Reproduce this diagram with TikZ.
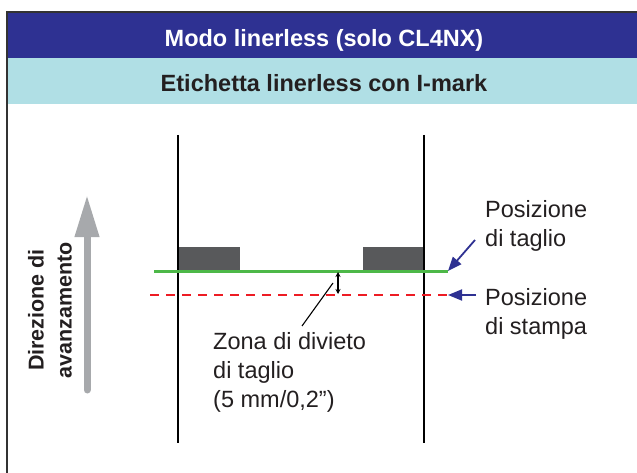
\documentclass[tikz,border=0pt]{standalone}
\usepackage{fontspec}
\setmainfont{Liberation Sans}
\usetikzlibrary{arrows.meta}
\definecolor{bandblue}{HTML}{2E3192}
\definecolor{bandcyan}{HTML}{B0DFE5}
\definecolor{markgray}{HTML}{58595B}
\definecolor{cutgreen}{HTML}{4DB848}
\definecolor{prtred}{HTML}{ED1C24}
\definecolor{inkgray}{HTML}{231F20}
\definecolor{dirgray}{HTML}{A7A9AC}
\begin{document}
\begin{tikzpicture}
  [x=1pt,y=-1pt,
   every node/.style={inner sep=0pt,text=inkgray,font=\fontsize{23.5}{29}\selectfont},
   label/.style={align=left,anchor=base west},
   pointer/.style={draw=bandblue,line width=1.8pt,-{Triangle[length=14pt,width=11pt]}}]
  \useasboundingbox (0,0) rectangle (637,473);

  % header bands
  \fill[bandblue] (7,12) rectangle (637,58);
  \fill[bandcyan] (7,58) rectangle (637,104);
  \draw[line width=2pt,draw=black!80] (7,473) -- (7,12) -- (637,12);
  \node[text=white,font=\bfseries\fontsize{23.5}{29}\selectfont] (title) at (324,40) {Modo linerless (solo CL4NX)};
  \node[font=\bfseries\fontsize{23.5}{29}\selectfont] (sub) at (324,83) {Etichetta linerless con I-mark};

  % label edges and I-marks
  \foreach \x in {178,424}
  \draw[line width=2.6pt] (\x,135) -- (\x,443);
  \foreach \a/\b in {179/240,363/423}
  \fill[markgray] (\a,247) rectangle (\b,270);

  \coordinate (cutL) at (154,271);
  \coordinate (cutR) at (448,271);
  \coordinate (prtL) at (150,295);
  \coordinate (prtR) at (448,295);
  \draw[cutgreen,line width=3pt] (cutL) -- (cutR);
  \draw[prtred,line width=2.8pt,dash pattern=on 9pt off 7pt] (prtL) -- (prtR);

  \coordinate (gapT) at (338,272);
  \coordinate (gapB) at (338,294);
  \draw[line width=1.1pt,{Stealth[length=5pt,width=5pt]}-{Stealth[length=5pt,width=5pt]}] (gapT) -- (gapB);

  % labels
  \node[label] (cutlbl) at (485,247) {Posizione\\di taglio};
  \node[label] (prtlbl) at (485,334) {Posizione\\di stampa};
  \node[label] (zone) at (213,407) {Zona di divieto\\di taglio\\(5 mm/0,2”)};

  \coordinate (cutT) at (475,240);
  \coordinate (prtT) at (476,295);
  \draw[pointer] (cutT) -- (cutR);
  \draw[pointer] (prtT) -- (prtR);

  \coordinate (zoneT) at (302,326);
  \coordinate (zoneH) at (333,283);
  \draw[line width=1.1pt] (zoneT) -- (zoneH);

  % feed direction
  \coordinate (dirB) at (87,390);
  \coordinate (dirT) at (87,195);
  \draw[dirgray,line width=7pt,line cap=round,-{Triangle[length=42pt,width=23pt]}] (dirB) -- (dirT);
  \node[rotate=90,align=center,font=\bfseries\fontsize{21.5}{28}\selectfont] (dir) at (50,310) {Direzione di\\avanzamento};
\end{tikzpicture}
\end{document}
